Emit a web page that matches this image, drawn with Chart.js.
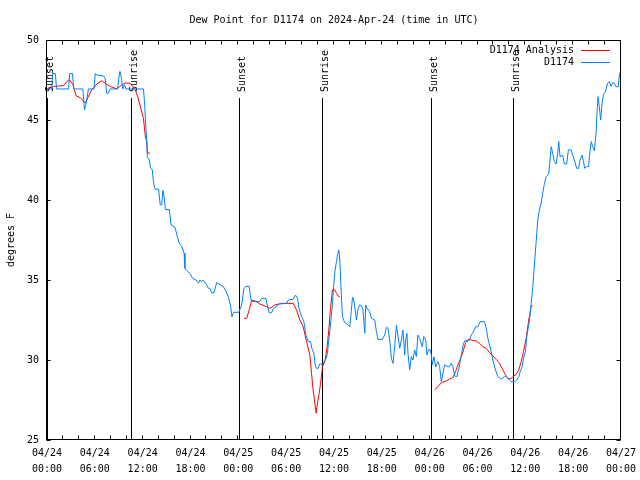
<!DOCTYPE html>
<html lang="en">
<head>
    <meta charset="UTF-8">
    <title>Dew Point for D1174</title>
    <script src="https://cdn.jsdelivr.net/npm/chart.js"></script>
    <style>
        html, body {
            margin: 0;
            padding: 0;
            background-color: #ffffff;
        }
        .chart-box {
            width: 640px;
            height: 480px;
        }
    </style>
</head>
<body>
    <div class="chart-box">
        <canvas id="dewChart" width="640" height="480"></canvas>
    </div>

    <script>
        // hours since 04/24 00:00 UTC
        const obsHours = [
            0.0, 0.6, 0.7, 1.05, 1.2, 2.7, 2.85, 3.2, 3.35, 4.5,
            4.7, 4.85, 5.2, 5.9, 6.05, 6.3, 7.1, 7.3, 7.5, 7.7,
            7.9, 8.85, 9.0, 9.15, 9.35, 9.5, 9.7, 9.9, 12.1, 12.25,
            12.35, 12.5, 12.58, 12.83, 13.0, 13.2, 13.35, 13.56, 14.0, 14.2,
            14.4, 14.53, 14.7, 14.85, 15.35, 15.56, 16.05, 16.35, 16.6, 16.9,
            17.2, 17.3, 17.5, 17.94, 18.28, 18.7, 19.0, 19.2, 19.4, 19.6,
            19.95, 20.25, 20.45, 20.66, 20.95, 21.28, 21.7, 22.1, 22.45, 22.74,
            23.0, 23.2, 23.4, 24.05, 24.42, 24.7, 24.96, 25.37, 25.55, 25.67,
            26.7, 26.92, 27.46, 27.62, 27.87, 28.17, 28.38, 29.13, 30.05, 30.26,
            30.88, 31.17, 31.43, 31.6, 31.8, 32.05, 32.22, 32.47, 32.76, 33.06,
            33.22, 33.47, 33.63, 33.8, 34.01, 34.22, 34.64, 34.85, 35.06, 35.22,
            35.39, 35.6, 35.81, 35.98, 36.14, 36.31, 36.44, 36.6, 36.73, 36.85,
            37.06, 37.35, 37.77, 37.98, 38.14, 38.32, 38.48, 38.6, 38.82, 39.02,
            39.23, 39.44, 39.64, 39.86, 39.98, 40.15, 40.48, 40.7, 41.11, 41.32,
            41.52, 42.07, 42.36, 42.57, 42.78, 42.99, 43.2, 43.4, 43.61, 43.83,
            44.03, 44.24, 44.45, 44.65, 44.87, 44.99, 45.15, 45.28, 45.49, 45.7,
            45.9, 46.12, 46.33, 46.53, 46.74, 47.08, 47.25, 47.5, 47.66, 47.87,
            48.08, 48.21, 48.33, 48.54, 48.75, 49.04, 49.25, 49.46, 49.66, 49.87,
            50.41, 50.71, 50.92, 51.13, 51.42, 51.67, 51.97, 52.25, 52.5, 52.8,
            53.0, 53.22, 53.5, 53.76, 54.05, 54.35, 54.88, 55.1, 55.3, 55.51,
            55.72, 55.92, 56.26, 56.55, 56.97, 57.39, 57.6, 58.01, 58.23, 58.64,
            58.93, 59.18, 59.35, 59.6, 59.77, 60.02, 60.18, 60.52, 60.73, 60.93,
            61.14, 61.36, 61.56, 61.77, 61.98, 62.18, 62.4, 62.61, 62.93, 63.02,
            63.24, 63.44, 63.65, 63.86, 64.06, 64.19, 64.36, 64.69, 64.9, 65.19,
            65.4, 65.74, 65.94, 66.15, 66.44, 66.69, 66.87, 67.12, 67.28, 67.44,
            67.69, 67.94, 68.12, 68.28, 68.45, 68.66, 68.87, 69.0, 69.12, 69.28,
            69.45, 69.62, 69.79, 70.04, 70.32, 70.53, 70.75, 70.95, 71.16, 71.37,
            71.66, 71.79, 71.92
        ];
        const obsValues = [
            46.94, 46.94, 47.9, 47.9, 46.94, 46.94, 47.9, 47.9, 46.94, 46.94,
            45.63, 45.9, 46.94, 46.94, 47.9, 47.8, 47.75, 47.6, 46.67, 46.67,
            46.94, 46.94, 47.6, 48.04, 47.6, 46.94, 47.2, 46.94, 46.94, 46.0,
            45.0, 43.75, 42.7, 42.5, 41.98, 41.9, 41.15, 40.67, 40.67, 39.7,
            39.7, 40.6, 40.2, 39.4, 39.4, 38.44, 38.3, 37.7, 37.3, 37.1,
            36.67, 35.73, 35.6, 35.4, 35.1, 35.0, 34.8, 35.0, 34.9, 35.0,
            34.75, 34.48, 34.48, 34.2, 34.2, 34.83, 34.7, 34.6, 34.3, 33.96,
            33.44, 32.7, 32.98, 32.98, 33.44, 34.48, 34.6, 34.6, 33.85, 33.65,
            33.65, 33.85, 33.85, 33.44, 32.96, 32.96, 33.2, 33.5, 33.54, 33.75,
            33.8, 34.06, 33.85, 33.23, 32.9, 32.6, 32.4, 31.56, 31.15, 31.15,
            30.73, 30.42, 29.69, 29.48, 29.48, 29.75, 29.75, 30.0, 30.1, 30.63,
            31.46, 32.4, 33.54, 34.8, 35.63, 36.15, 36.56, 36.88, 36.25, 34.8,
            32.7, 32.33, 32.19, 32.08, 32.9, 33.92, 33.75, 33.33, 32.5, 33.23,
            33.44, 33.4, 33.13, 31.67, 33.44, 33.23, 33.02, 32.6, 32.5, 31.77,
            31.29, 31.29, 31.56, 32.04, 31.98, 31.25, 30.1, 29.79, 30.83, 32.19,
            31.46, 30.73, 31.25, 31.88, 30.31, 31.25, 31.67, 30.42, 29.38, 30.21,
            30.0, 30.63, 30.21, 31.56, 31.35, 30.83, 31.46, 31.25, 30.31, 30.65,
            30.63, 30.31, 29.69, 30.21, 29.56, 29.9, 29.58, 28.65, 29.17, 29.69,
            29.56, 29.79, 29.58, 29.0, 28.96, 29.48, 30.31, 31.04, 31.25, 31.15,
            31.25, 31.56, 31.77, 32.08, 32.08, 32.4, 32.4, 31.98, 31.35, 30.94,
            30.52, 30.0, 29.38, 28.96, 28.8, 28.96, 29.0, 28.75, 28.65, 28.65,
            28.75, 28.96, 29.27, 29.58, 30.1, 30.52, 31.46, 32.5, 33.54, 34.5,
            36.0, 37.4, 38.75, 39.38, 39.8, 40.42, 41.04, 41.46, 41.6, 42.08,
            43.33, 42.9, 42.4, 42.25, 42.9, 43.65, 42.7, 42.8, 42.25, 42.25,
            43.13, 43.13, 42.8, 42.5, 41.98, 41.98, 42.5, 42.81, 42.46, 41.98,
            42.1, 42.1, 43.13, 43.65, 43.33, 43.08, 44.17, 45.52, 46.46, 45.83,
            45.0, 46.04, 46.56, 46.77, 47.3, 47.4, 47.1, 47.33, 47.3, 47.08,
            47.08, 47.81, 48.0
        ];

        // analysis has gaps (null) between the three runs
        const anaHours = [
            0.0, 0.83, 2.08, 2.7, 2.84, 3.25, 3.67, 4.17, 4.8, 5.22,
            5.63, 6.26, 6.88, 7.42, 7.93, 8.77, 9.39, 9.8, 10.43, 11.06,
            11.35, 11.68, 12.1, 12.35, 12.52, 12.6, 12.94, 18.0,
            24.72, 25.04, 25.37, 25.67, 26.08, 26.7, 27.55, 27.96, 28.59, 29.43,
            30.88, 31.3, 31.72, 32.13, 32.56, 32.97, 33.18, 33.38, 33.6, 33.76,
            33.93, 34.14, 34.31, 34.56, 34.85, 35.14, 35.35, 35.56, 35.81, 36.1,
            36.31, 36.51, 36.73, 42.0,
            48.62, 49.04, 49.46, 50.09, 50.5, 50.92, 51.25, 51.54, 51.97, 52.25,
            52.5, 52.8, 53.22, 53.84, 54.26, 54.67, 55.1, 55.51, 55.92, 56.35,
            56.76, 57.18, 57.52, 57.8, 58.23, 58.43, 58.85, 59.18, 59.48, 59.77,
            60.1, 60.43, 60.73, 60.93
        ];
        const anaValues = [
            46.94, 47.1, 47.15, 47.5, 47.5, 47.2, 46.5, 46.4, 46.06, 46.5,
            46.9, 47.25, 47.45, 47.25, 47.1, 46.94, 47.2, 47.3, 47.3, 46.9,
            46.5, 45.9, 45.1, 43.9, 43.65, 42.93, 42.93, null,
            32.6, 32.6, 33.13, 33.75, 33.7, 33.5, 33.33, 33.23, 33.44, 33.54,
            33.54, 33.13, 32.5, 32.08, 31.15, 30.31, 29.17, 28.13, 27.3, 26.67,
            27.3, 27.9, 28.54, 29.58, 29.9, 30.83, 31.88, 33.23, 34.38, 34.38,
            34.17, 34.0, 33.96, null,
            28.13, 28.33, 28.58, 28.7, 28.8, 28.9, 29.27, 29.69, 30.2, 30.63,
            31.08, 31.29, 31.25, 31.19, 31.04, 30.83, 30.73, 30.46, 30.25, 30.04,
            29.79, 29.38, 29.06, 28.85, 28.85, 28.96, 29.1, 29.38, 29.9, 30.52,
            31.35, 32.5, 33.33, 33.44
        ];

        const sunHours = [0.05, 10.57, 24.1, 34.5, 48.15, 58.43];
        const sunNames = ['Sunset', 'Sunrise', 'Sunset', 'Sunrise', 'Sunset', 'Sunrise'];

        const dateTicks = ['04/24', '04/24', '04/24', '04/24', '04/25', '04/25', '04/25',
                           '04/25', '04/26', '04/26', '04/26', '04/26', '04/27'];
        const timeTicks = ['00:00', '06:00', '12:00', '18:00', '00:00', '06:00', '12:00',
                           '18:00', '00:00', '06:00', '12:00', '18:00', '00:00'];

        const titleText = 'Dew Point for D1174 on 2024-Apr-24 (time in UTC)';
        const FONT = 'DejaVu Sans Mono';

        // gnuplot-looking extras: frame, inward ticks, sun lines, title, key
        const gnuplotBits = {
            id: 'gnuplotBits',
            beforeDatasetsDraw(chart) {
                const { ctx, chartArea: a, scales: { x } } = chart;
                ctx.save();
                ctx.strokeStyle = '#000';
                ctx.fillStyle = '#000';
                ctx.lineWidth = 1;
                ctx.font = '10px "' + FONT + '"';
                sunHours.forEach((h, i) => {
                    const px = Math.round(x.getPixelForValue(h)) + 0.5;
                    ctx.beginPath();
                    ctx.moveTo(px, a.top + 58);
                    ctx.lineTo(px, a.bottom);
                    ctx.stroke();
                    ctx.save();
                    ctx.translate(px + 5, a.top + 52);
                    ctx.rotate(-Math.PI / 2);
                    ctx.textAlign = 'left';
                    ctx.textBaseline = 'alphabetic';
                    ctx.fillText(sunNames[i], 0, 0);
                    ctx.restore();
                });
                ctx.restore();
            },
            afterDraw(chart) {
                const { ctx, chartArea: a, scales: { x, y } } = chart;
                const L = Math.floor(a.left) - 0.5;
                const R = Math.round(a.right) - 0.5;
                const T = Math.round(a.top) + 0.5;
                const B = Math.round(a.bottom) - 0.5;
                ctx.save();
                ctx.strokeStyle = '#000';
                ctx.fillStyle = '#000';
                ctx.lineWidth = 1;

                ctx.beginPath();
                for (let h = 0; h <= 72; h += 2) {
                    const px = Math.round(x.getPixelForValue(h)) - 0.5;
                    ctx.moveTo(px, B); ctx.lineTo(px, B - 4);
                    ctx.moveTo(px, T); ctx.lineTo(px, T + 4);
                }
                for (let v = 25; v <= 50; v += 5) {
                    const py = Math.round(y.getPixelForValue(v)) + 0.5;
                    ctx.moveTo(L, py); ctx.lineTo(L + 4, py);
                    ctx.moveTo(R, py); ctx.lineTo(R - 4, py);
                }
                ctx.stroke();
                ctx.strokeRect(L, T, R - L, B - T);

                ctx.font = '10px "' + FONT + '"';
                ctx.textBaseline = 'middle';
                ctx.textAlign = 'center';
                ctx.fillText(titleText, (a.left + a.right) / 2, 20);

                // key
                const keyItems = chart.data.datasets;
                ctx.textAlign = 'right';
                keyItems.forEach((ds, i) => {
                    const ky = a.top + 10.5 + i * 12;
                    ctx.fillStyle = '#000';
                    ctx.fillText(ds.label, a.right - 47, ky);
                    ctx.strokeStyle = ds.borderColor;
                    ctx.beginPath();
                    ctx.moveTo(a.right - 40, ky);
                    ctx.lineTo(a.right - 11, ky);
                    ctx.stroke();
                });
                ctx.restore();
            }
        };

        new Chart(document.getElementById('dewChart'), {
            type: 'line',
            data: {
                datasets: [{
                    label: 'D1174 Analysis',
                    data: anaHours.map((h, i) => ({ x: h, y: anaValues[i] })),
                    borderColor: '#ff0000',
                    borderWidth: 1,
                    pointRadius: 0,
                    tension: 0,
                    spanGaps: false,
                    order: 2
                }, {
                    label: 'D1174',
                    data: obsHours.map((h, i) => ({ x: h, y: obsValues[i] })),
                    borderColor: '#0080ff',
                    borderWidth: 1,
                    pointRadius: 0,
                    tension: 0,
                    order: 1
                }]
            },
            options: {
                responsive: false,
                animation: false,
                devicePixelRatio: 1,
                layout: {
                    padding: { top: 40, right: 19, left: 0, bottom: 0 }
                },
                scales: {
                    x: {
                        type: 'linear',
                        min: 0,
                        max: 72,
                        grid: { display: false, drawTicks: false },
                        border: { display: false },
                        afterFit(scale) {
                            scale.height = 40;
                            scale.paddingLeft = 0;
                            scale.paddingRight = 0;
                        },
                        ticks: {
                            stepSize: 6,
                            autoSkip: false,
                            maxRotation: 0,
                            padding: 5,
                            color: '#000',
                            font: { family: FONT, size: 10, lineHeight: 1.6 },
                            callback: (v) => {
                                const i = Math.round(v / 6);
                                return [dateTicks[i], timeTicks[i]];
                            }
                        }
                    },
                    y: {
                        min: 25,
                        max: 50,
                        grid: { display: false, drawTicks: false },
                        border: { display: false },
                        afterFit(scale) {
                            scale.width = 47;
                            scale.paddingTop = 0;
                            scale.paddingBottom = 0;
                        },
                        ticks: {
                            stepSize: 5,
                            padding: 8,
                            color: '#000',
                            font: { family: FONT, size: 10 }
                        },
                        title: {
                            display: true,
                            text: 'degrees F',
                            color: '#000',
                            padding: { top: 5, bottom: 0 },
                            font: { family: FONT, size: 10 }
                        }
                    }
                },
                plugins: {
                    legend: { display: false },
                    tooltip: { enabled: false },
                    title: { display: false }
                }
            },
            plugins: [gnuplotBits]
        });
    </script>
</body>
</html>
